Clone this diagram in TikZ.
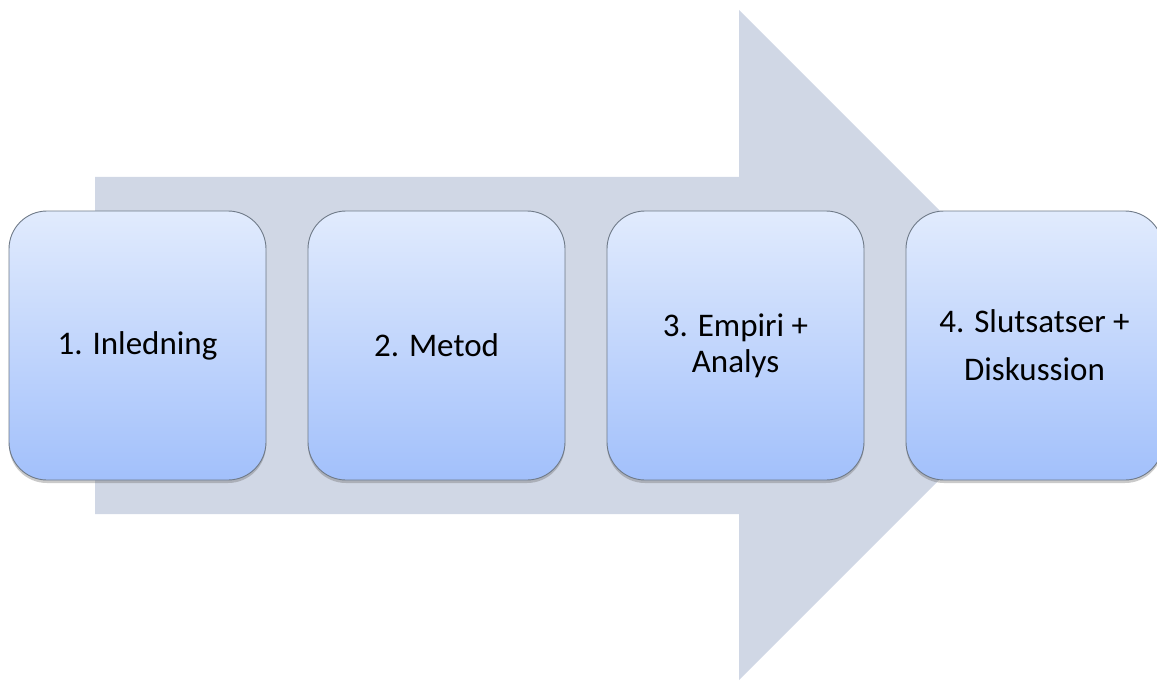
\documentclass[tikz,border=0pt]{standalone}
\usepackage{fontspec}
\setmainfont{Carlito}
\usetikzlibrary{shadows}
\definecolor{arrowfill}{HTML}{D0D7E5}
\definecolor{boxtop}{HTML}{E1EBFD}
\definecolor{boxbot}{HTML}{A2C0FB}
\definecolor{boxedge}{HTML}{6F7A88}
\tikzset{
  stepbox/.style={rectangle, rounded corners=38pt, draw=boxedge, line width=0.9pt,
    top color=boxtop, bottom color=boxbot, minimum width=257pt, minimum height=269pt,
    align=center, font=\fontsize{33}{36}\selectfont, inner sep=0pt,
    drop shadow={shadow xshift=0pt, shadow yshift=-3pt, opacity=0.35, fill=black!60}},
}
\begin{document}
\begin{tikzpicture}[x=1pt,y=-1pt]
\useasboundingbox (0,0) rectangle (1157,682);
\begin{scope}
\clip (0,0) rectangle (1157,682);
\fill[arrowfill] (95,177) -- (739,177) -- (739,10) -- (1074,345) -- (739,680) -- (739,514) -- (95,514) -- cycle;
\node[stepbox] (b1) at (137.5,345.5) {1. Inledning};
\node[stepbox] (b2) at (436.5,345.5) {2. Metod};
\node[stepbox, font=\fontsize{33}{36}\selectfont] (b3) at (735.5,345.5) {3. Empiri +\\ Analys};
\node[stepbox, font=\fontsize{33}{48}\selectfont] (b4) at (1034.5,345.5) {4. Slutsatser +\\ Diskussion};
\end{scope}
\end{tikzpicture}
\end{document}
